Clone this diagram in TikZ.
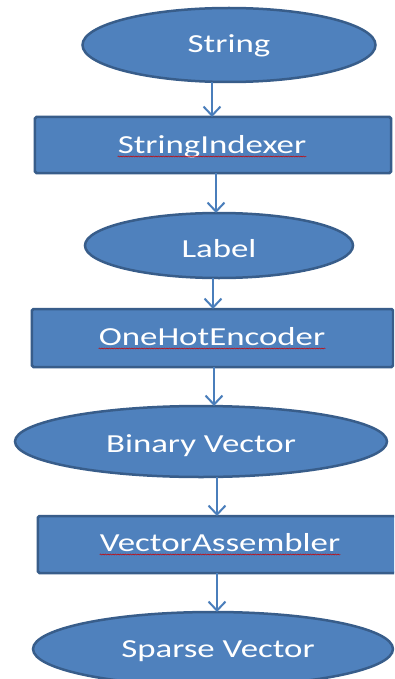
\documentclass[tikz,border=0pt]{standalone}
\usepackage{fontspec}
\setmainfont{Carlito}[FakeStretch=1.34]
\usetikzlibrary{shapes.geometric,arrows.meta,decorations.pathmorphing}
\definecolor{boxfill}{HTML}{4F81BD}
\definecolor{boxline}{HTML}{385D8A}
\definecolor{arrowc}{HTML}{4A7EBB}
\begin{document}
\begin{tikzpicture}[x=1bp,y=-1bp,
  oval/.style={ellipse,draw=boxline,fill=boxfill,line width=2.5bp,inner sep=0pt,outer sep=0pt},
  stepbox/.style={rectangle,draw=boxline,fill=boxfill,line width=2.5bp,rounded corners=1.5bp,inner sep=0pt,outer sep=0pt},
  lbl/.style={text=white,inner sep=0pt,anchor=base,font=\fontsize{26bp}{30bp}\selectfont},
  arr/.style={draw=arrowc,line width=2bp,-{Straight Barb[length=9bp,width=17bp,line width=2bp]}},
  squig/.style={draw=red!80!black,line width=0.5bp,decorate,decoration={snake,amplitude=0.5bp,segment length=2.5bp}}]
\clip (0,0) rectangle (394,679);
\fill[white] (0,0) rectangle (394,679);
% shapes
\node[oval,minimum width=293bp,minimum height=74bp] (n1) at (229,45) {};
\node[stepbox,minimum width=356bp,minimum height=56bp] (n2) at (213,145) {};
\node[oval,minimum width=268bp,minimum height=65bp] (n3) at (219,245.5) {};
\node[stepbox,minimum width=361bp,minimum height=58bp] (n4) at (212.5,338) {};
\node[oval,minimum width=372bp,minimum height=71bp] (n5) at (201,441.5) {};
\node[stepbox,minimum width=358bp,minimum height=57bp] (n6) at (217,544.5) {};
\node[oval,minimum width=360bp,minimum height=74bp] (n7) at (213,649) {};
% texts
\node[lbl] (t1) at (229,53) {String};
\node[lbl] (t2) at (212,153) {StringIndexer};
\node[lbl] (t3) at (219,257) {Label};
\node[lbl] (t4) at (212,345) {OneHotEncoder};
\node[lbl] (t5) at (201,452) {Binary Vector};
\node[lbl] (t6) at (220,551) {VectorAssembler};
\node[lbl] (t7) at (218,657) {Sparse Vector};
% spell-check squiggles
\draw[squig] ([yshift=-3.5bp]t2.base west) -- ([yshift=-3.5bp]t2.base east);
\draw[squig] ([yshift=-3.5bp]t4.base west) -- ([yshift=-3.5bp]t4.base east);
\draw[squig] ([yshift=-3.5bp]t6.base west) -- ([yshift=-3.5bp]t6.base east);
% arrow columns
\coordinate (c1) at (212,0);
\coordinate (c2) at (216,0);
\coordinate (c3) at (213,0);
\coordinate (c4) at (214,0);
\coordinate (c5) at (217,0);
\draw[arr] (n1.south -| c1) -- (n2.north -| c1);
\draw[arr] (n2.south -| c2) -- (n3.north -| c2);
\draw[arr] (n3.south -| c3) -- (n4.north -| c3);
\draw[arr] (n4.south -| c4) -- (n5.north -| c4);
\draw[arr] (n5.south -| c5) -- (n6.north -| c5);
\draw[arr] (n6.south -| c5) -- (n7.north -| c5);
\end{tikzpicture}
\end{document}
